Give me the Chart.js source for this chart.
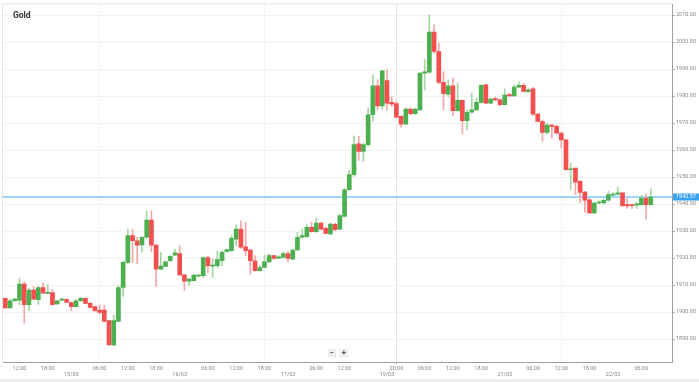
<!DOCTYPE html>
<html lang="en">
<head>
    <meta charset="UTF-8">
    <title>Gold</title>
    <script src="https://cdn.jsdelivr.net/npm/chart.js"></script>
    <style>
        html, body { margin: 0; padding: 0; background: #fff; }
        #goldChart { display: block; }
    </style>
</head>
<body>
    <canvas id="goldChart" width="699" height="382"></canvas>
    <script>
        // hourly candles (one hour break each day), last 4 hours are empty space on the right
        const times = [
            '14/03 09:00','14/03 10:00','14/03 11:00','14/03 12:00','14/03 13:00','14/03 14:00','14/03 15:00','14/03 16:00','14/03 17:00','14/03 18:00','14/03 19:00','14/03 20:00','14/03 22:00','14/03 23:00',
            '15/03 00:00','15/03 01:00','15/03 02:00','15/03 03:00','15/03 04:00','15/03 05:00','15/03 06:00','15/03 07:00','15/03 08:00','15/03 09:00','15/03 10:00','15/03 11:00','15/03 12:00','15/03 13:00','15/03 14:00','15/03 15:00','15/03 16:00','15/03 17:00','15/03 18:00','15/03 19:00','15/03 20:00','15/03 22:00','15/03 23:00',
            '16/03 00:00','16/03 01:00','16/03 02:00','16/03 03:00','16/03 04:00','16/03 05:00','16/03 06:00','16/03 07:00','16/03 08:00','16/03 09:00','16/03 10:00','16/03 11:00','16/03 12:00','16/03 13:00','16/03 14:00','16/03 15:00','16/03 16:00','16/03 17:00','16/03 18:00','16/03 19:00','16/03 20:00','16/03 22:00','16/03 23:00',
            '17/03 00:00','17/03 01:00','17/03 02:00','17/03 03:00','17/03 04:00','17/03 05:00','17/03 06:00','17/03 07:00','17/03 08:00','17/03 09:00','17/03 10:00','17/03 11:00','17/03 12:00','17/03 13:00','17/03 14:00','17/03 15:00','17/03 16:00','17/03 17:00','17/03 18:00','17/03 19:00','17/03 20:00',
            '19/03 22:00','19/03 23:00',
            '20/03 00:00','20/03 01:00','20/03 02:00','20/03 03:00','20/03 04:00','20/03 05:00','20/03 06:00','20/03 07:00','20/03 08:00','20/03 09:00','20/03 10:00','20/03 11:00','20/03 12:00','20/03 13:00','20/03 14:00','20/03 15:00','20/03 16:00','20/03 17:00','20/03 18:00','20/03 19:00','20/03 20:00','20/03 22:00','20/03 23:00',
            '21/03 00:00','21/03 01:00','21/03 02:00','21/03 03:00','21/03 04:00','21/03 05:00','21/03 06:00','21/03 07:00','21/03 08:00','21/03 09:00','21/03 10:00','21/03 11:00','21/03 12:00','21/03 13:00','21/03 14:00','21/03 15:00','21/03 16:00','21/03 17:00','21/03 18:00','21/03 19:00','21/03 20:00','21/03 22:00','21/03 23:00',
            '22/03 00:00','22/03 01:00','22/03 02:00','22/03 03:00','22/03 04:00','22/03 05:00','22/03 06:00','22/03 07:00','22/03 08:00',
            '22/03 09:00','22/03 10:00','22/03 11:00','22/03 12:00'
        ];

        const open = [
            1905.1, 1901.5, 1904.2, 1904.4, 1910.4, 1902.7, 1908.1, 1904.6, 1909.1, 1906.9,
            1907.2, 1903.0, 1904.4, 1904.7, 1903.5, 1902.0, 1904.2, 1905.1, 1903.2, 1902.0,
            1900.7, 1900.7, 1896.8, 1887.8, 1896.5, 1909.1, 1918.4, 1928.3, 1926.4, 1924.9,
            1927.7, 1934.1, 1924.8, 1915.9, 1916.9, 1919.0, 1921.1, 1921.7, 1913.8, 1911.4,
            1911.6, 1913.3, 1913.5, 1920.2, 1917.0, 1917.2, 1919.0, 1922.5, 1922.7, 1927.0,
            1930.7, 1924.2, 1923.0, 1919.0, 1915.3, 1916.5, 1918.6, 1920.9, 1920.0, 1920.2,
            1921.7, 1919.6, 1923.0, 1927.7, 1927.9, 1931.4, 1929.8, 1933.0, 1931.0, 1928.9,
            1932.5, 1930.7, 1935.4, 1945.3, 1950.9, 1962.3, 1959.5, 1962.0, 1973.1, 1983.8,
            1976.4, 1985.7, 1977.7, 1977.2, 1972.5, 1969.6, 1975.2, 1973.5, 1974.9, 1988.5,
            1988.9, 2003.7, 1996.5, 1985.1, 1980.7, 1983.8, 1974.6, 1978.4, 1970.9, 1974.0,
            1974.9, 1977.7, 1984.2, 1977.4, 1979.1, 1978.6, 1976.8, 1980.6, 1980.1, 1983.3,
            1984.0, 1981.6, 1982.7, 1973.3, 1970.6, 1966.5, 1969.3, 1968.8, 1966.3, 1963.8,
            1952.7, 1953.3, 1948.4, 1944.4, 1941.6, 1936.7, 1940.4, 1940.4, 1941.4, 1943.3,
            1943.7, 1944.2, 1939.8, 1939.8, 1939.6, 1939.8, 1942.2, 1939.8
        ];
        const high = [
            1905.3, 1904.8, 1905.2, 1912.5, 1911.2, 1908.8, 1909.5, 1909.5, 1910.7, 1910.1,
            1908.3, 1904.3, 1905.2, 1904.8, 1903.8, 1904.6, 1905.4, 1905.3, 1903.6, 1902.3,
            1902.6, 1902.6, 1896.9, 1898.9, 1909.8, 1919.0, 1930.7, 1930.7, 1927.7, 1928.0,
            1937.5, 1937.5, 1925.2, 1922.1, 1919.0, 1921.1, 1923.3, 1924.6, 1914.1, 1912.5,
            1914.0, 1914.1, 1920.5, 1920.6, 1919.6, 1922.7, 1922.7, 1923.3, 1928.3, 1932.2,
            1933.8, 1933.2, 1923.3, 1920.9, 1917.2, 1921.1, 1921.5, 1921.1, 1920.9, 1922.3,
            1922.3, 1923.1, 1929.5, 1930.7, 1932.6, 1933.2, 1934.8, 1933.2, 1931.7, 1933.0,
            1933.0, 1936.3, 1945.9, 1952.5, 1965.3, 1965.1, 1962.6, 1975.6, 1987.9, 1986.0,
            1989.5, 1989.8, 1979.6, 1978.0, 1972.7, 1975.6, 1975.6, 1975.6, 1988.8, 1993.5,
            2010.1, 2006.4, 1999.6, 1989.1, 1986.0, 1986.7, 1984.8, 1978.6, 1974.9, 1981.1,
            1979.3, 1984.2, 1984.4, 1979.3, 1979.6, 1978.9, 1982.6, 1981.1, 1984.2, 1985.4,
            1984.6, 1983.0, 1983.3, 1973.5, 1971.0, 1970.0, 1969.4, 1969.3, 1966.8, 1964.1,
            1955.2, 1953.3, 1948.8, 1944.7, 1942.0, 1940.6, 1941.2, 1941.9, 1944.7, 1944.3,
            1946.2, 1944.3, 1942.2, 1940.0, 1940.6, 1943.1, 1943.7, 1945.6
        ];
        const low = [
            1901.4, 1901.4, 1903.9, 1902.6, 1895.9, 1900.5, 1904.6, 1902.8, 1906.8, 1906.7,
            1902.6, 1902.8, 1904.2, 1903.5, 1900.5, 1901.9, 1903.9, 1903.0, 1901.5, 1900.2,
            1899.3, 1896.4, 1887.5, 1887.5, 1896.4, 1905.8, 1917.8, 1918.4, 1917.8, 1922.1,
            1927.3, 1922.3, 1909.5, 1915.7, 1916.7, 1918.8, 1920.9, 1913.5, 1907.9, 1909.8,
            1911.4, 1913.1, 1912.8, 1914.7, 1912.8, 1916.5, 1917.2, 1922.1, 1922.5, 1924.6,
            1923.6, 1920.9, 1914.1, 1915.1, 1915.1, 1916.4, 1918.4, 1919.6, 1919.8, 1920.1,
            1918.6, 1919.4, 1922.7, 1927.4, 1927.7, 1929.5, 1929.5, 1930.5, 1928.9, 1928.6,
            1930.1, 1930.5, 1935.2, 1945.1, 1950.2, 1956.2, 1955.8, 1961.4, 1970.6, 1974.9,
            1975.2, 1974.9, 1976.2, 1971.9, 1968.5, 1969.4, 1973.1, 1973.2, 1974.7, 1982.3,
            1988.5, 1995.9, 1984.6, 1974.9, 1979.9, 1972.7, 1974.3, 1966.0, 1967.5, 1973.7,
            1974.7, 1977.4, 1977.2, 1977.2, 1978.3, 1976.4, 1976.7, 1979.9, 1979.9, 1983.0,
            1981.5, 1981.4, 1972.7, 1970.4, 1963.2, 1966.0, 1964.4, 1966.0, 1960.7, 1952.5,
            1945.3, 1943.5, 1940.6, 1936.9, 1936.4, 1936.4, 1940.1, 1940.1, 1941.1, 1943.1,
            1943.3, 1939.1, 1938.5, 1938.3, 1938.4, 1939.5, 1934.4, 1939.5
        ];
        const close = [
            1901.5, 1904.2, 1904.8, 1910.4, 1902.7, 1908.1, 1904.8, 1909.1, 1907.0, 1907.3,
            1902.7, 1904.2, 1904.8, 1903.6, 1902.0, 1904.2, 1905.1, 1903.2, 1901.7, 1900.5,
            1899.9, 1896.5, 1887.9, 1896.8, 1909.1, 1918.4, 1928.3, 1926.4, 1924.8, 1927.7,
            1934.1, 1924.8, 1915.9, 1917.0, 1918.6, 1920.6, 1921.9, 1913.8, 1911.4, 1912.2,
            1913.7, 1913.7, 1920.2, 1917.2, 1917.4, 1919.4, 1922.1, 1923.1, 1927.3, 1930.7,
            1924.0, 1922.7, 1919.0, 1915.3, 1916.5, 1918.6, 1920.9, 1919.9, 1920.5, 1921.7,
            1919.9, 1923.0, 1927.7, 1928.3, 1931.4, 1929.8, 1933.0, 1930.7, 1929.1, 1932.6,
            1930.5, 1935.7, 1945.3, 1950.9, 1962.0, 1959.5, 1962.0, 1973.1, 1983.8, 1976.4,
            1989.4, 1977.4, 1977.0, 1972.2, 1969.6, 1975.2, 1973.5, 1975.2, 1988.5, 1989.0,
            2003.7, 1996.5, 1985.1, 1980.9, 1983.8, 1974.6, 1978.4, 1970.9, 1974.0, 1974.9,
            1977.7, 1984.0, 1977.4, 1978.9, 1978.6, 1976.8, 1980.4, 1980.1, 1983.3, 1984.0,
            1981.7, 1982.3, 1973.3, 1970.6, 1966.5, 1969.3, 1968.8, 1966.3, 1963.8, 1952.7,
            1953.1, 1948.1, 1944.3, 1941.4, 1936.7, 1940.4, 1940.7, 1941.4, 1943.5, 1943.7,
            1944.2, 1939.4, 1939.3, 1939.4, 1940.1, 1942.2, 1939.8, 1942.57
        ];

        const yTicks = [1890, 1900, 1910, 1920, 1930, 1940, 1950, 1960, 1970, 1980, 1990, 2000, 2010];
        const tickTimes = [
            '14/03 12:00','14/03 18:00','15/03 00:00','15/03 06:00','15/03 12:00','15/03 18:00',
            '16/03 00:00','16/03 06:00','16/03 12:00','16/03 18:00','17/03 00:00','17/03 06:00','17/03 12:00',
            '19/03 22:00','20/03 00:00','20/03 06:00','20/03 12:00','20/03 18:00',
            '21/03 00:00','21/03 06:00','21/03 12:00','21/03 18:00','22/03 00:00','22/03 06:00'
        ];
        const tickText = [
            '12:00','18:00','15/03','06:00','12:00','18:00',
            '16/03','06:00','12:00','18:00','17/03','06:00','12:00',
            '19/03','00:00','06:00','12:00','18:00',
            '21/03','06:00','12:00','18:00','22/03','06:00'
        ];
        const lastPrice = 1942.57;

        const green = '#4caf50', red = '#f44e4e';
        const greenWick = '#a5d6a2', redWick = '#f7a6a6';
        const up = open.map((o, i) => close[i] >= o);

        Chart.defaults.font.family = "Roboto, 'Open Sans', sans-serif";

        function tickKind(i) {
            const k = tickTimes.indexOf(times[i]);
            if (k < 0) return null;
            return tickText[k].includes('/') ? 'day' : 'hour';
        }

        // light frame around the plot and grey strip at the bottom
        const framePlugin = {
            id: 'frame',
            beforeDraw(chart) {
                const { ctx, chartArea } = chart;
                ctx.save();
                ctx.fillStyle = '#ffffff';
                ctx.fillRect(0, 0, chart.width, chart.height);
                ctx.fillStyle = '#eeeeee';
                ctx.fillRect(0, chart.height - 3, chart.width, 3);
                ctx.strokeStyle = '#e2e2e2';
                ctx.lineWidth = 1;
                ctx.beginPath();
                ctx.moveTo(chartArea.left - 0.5, chartArea.bottom);
                ctx.lineTo(chartArea.left - 0.5, chartArea.top - 0.5);
                ctx.lineTo(chartArea.right, chartArea.top - 0.5);
                ctx.stroke();
                ctx.restore();
            }
        };

        // current price line, price tag, title and zoom buttons
        const pricePlugin = {
            id: 'price',
            beforeDatasetsDraw(chart) {
                const { ctx, chartArea, scales } = chart;
                const py = Math.round(scales.y.getPixelForValue(lastPrice));
                ctx.save();
                ctx.fillStyle = '#9ed3fb';
                ctx.fillRect(chartArea.left, py - 1, chartArea.right - chartArea.left, 2);
                ctx.restore();
            },
            afterDraw(chart) {
                const { ctx, chartArea, scales } = chart;
                const py = Math.round(scales.y.getPixelForValue(lastPrice));
                ctx.save();
                ctx.fillStyle = '#36a2f0';
                ctx.fillRect(chartArea.right + 1, py - 3.5, 26, 7);
                ctx.fillStyle = '#ffffff';
                ctx.font = "5.5px Roboto, 'Open Sans', sans-serif";
                ctx.textBaseline = 'middle';
                ctx.fillText(lastPrice.toFixed(2), chartArea.right + 4, py);

                ctx.fillStyle = '#333333';
                ctx.font = "bold 8.5px Roboto, 'Open Sans', sans-serif";
                ctx.textBaseline = 'alphabetic';
                ctx.fillText('Gold', 13, 18);

                ctx.fillStyle = '#ececec';
                ctx.fillRect(328, 349, 8, 8);
                ctx.fillRect(340, 349, 8, 8);
                ctx.fillStyle = '#444444';
                ctx.font = "bold 7px Roboto, 'Open Sans', sans-serif";
                ctx.textAlign = 'center';
                ctx.textBaseline = 'middle';
                ctx.fillText('\u2212', 332, 353);
                ctx.fillText('+', 344, 353);
                ctx.restore();
            }
        };

        new Chart(document.getElementById('goldChart'), {
            type: 'bar',
            data: {
                labels: times,
                datasets: [
                    {
                        label: 'Wick',
                        data: low.map((l, i) => [l, high[i]]),
                        backgroundColor: up.map(u => u ? greenWick : redWick),
                        barThickness: 1,
                        grouped: false,
                        order: 2
                    },
                    {
                        label: 'Gold',
                        data: open.map((o, i) => [o, close[i]]),
                        backgroundColor: up.map(u => u ? green : red),
                        barThickness: 4,
                        minBarLength: 1,
                        grouped: false,
                        order: 1
                    }
                ]
            },
            options: {
                responsive: false,
                animation: false,
                layout: { padding: { left: 3, top: 4, right: 0, bottom: 0 } },
                plugins: {
                    legend: { display: false },
                    tooltip: { enabled: false }
                },
                scales: {
                    x: {
                        offset: true,
                        afterFit: scale => { scale.height = 20; },
                        border: { color: '#a0a0a0' },
                        grid: {
                            offset: false,
                            tickLength: 3,
                            tickBorderDash: [1, 1],
                            color: ctx => {
                                const k = tickKind(ctx.index);
                                return k === 'day' ? '#e2e2e2' : k === 'hour' ? '#f3f3f3' : 'rgba(0,0,0,0)';
                            },
                            tickColor: ctx => tickKind(ctx.index) === 'day' ? '#999999' : 'rgba(0,0,0,0)'
                        },
                        ticks: {
                            autoSkip: false,
                            maxRotation: 0,
                            padding: 0,
                            color: '#888888',
                            font: { size: 5.5 },
                            callback: function (value, index) {
                                const k = tickTimes.indexOf(times[index]);
                                if (k < 0) return null;
                                const t = tickText[k];
                                return t.includes('/') ? ['', t] : t;
                            }
                        }
                    },
                    y: {
                        position: 'right',
                        min: 1881.5,
                        max: 2014,
                        afterBuildTicks: scale => { scale.ticks = yTicks.map(v => ({ value: v })); },
                        afterFit: scale => { scale.width = 27; },
                        border: { color: '#a0a0a0' },
                        grid: { color: '#f2f2f2', tickLength: 3, tickColor: '#b0b0b0' },
                        ticks: {
                            padding: 1,
                            color: '#888888',
                            font: { size: 5.5 },
                            callback: v => v.toFixed(2)
                        }
                    }
                }
            },
            plugins: [framePlugin, pricePlugin]
        });
    </script>
</body>
</html>
